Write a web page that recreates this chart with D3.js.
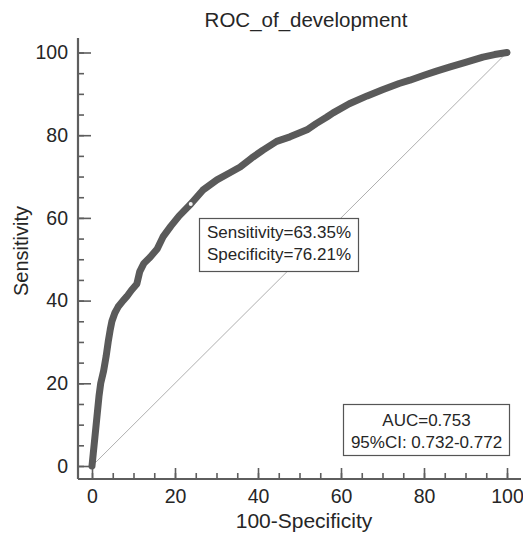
<!DOCTYPE html>
<html>
<head>
<meta charset="utf-8">
<script src="https://cdn.jsdelivr.net/npm/d3@7"></script>
<style>
  body { margin: 0; background: #fff; }
  svg { font-family: "Liberation Sans", Arial, sans-serif; }
</style>
</head>
<body>
<svg width="523" height="543"></svg>
<script>
// 100-Specificity (false positive rate, %)
var fpr = [0, 0.3, 0.7, 1.2, 1.7, 2.1, 2.8, 3.4, 3.9, 4.4, 4.8, 5.5, 6.3, 7.5, 8.4, 9.5,
    10.8, 11.5, 12.5, 14, 15.7, 17.1, 19, 21, 23.79, 26.7, 30.1, 33, 35.7, 38.5, 41.2,
    44.5, 47.7, 51.8, 54, 56.6, 58.1, 62, 66.3, 70, 74, 76.6, 80, 83, 86.3, 90, 94.2, 97, 100];
// Sensitivity (%)
var tpr = [0, 3, 7, 12, 17, 20, 23, 26.5, 30, 33, 35, 37, 38.5, 40, 41, 42.5,
    44, 47, 49, 50.5, 52.5, 55.4, 58, 60.5, 63.35, 66.7, 69.2, 70.8, 72.3, 74.5, 76.4,
    78.5, 79.6, 81.3, 82.8, 84.4, 85.4, 87.6, 89.5, 91, 92.5, 93.3, 94.5, 95.5, 96.5, 97.6, 98.9, 99.5, 100];
var majorTicks = [0, 20, 40, 60, 80, 100];
var minorTicks = d3.range(0, 101, 5);
var cutoff = {fpr: 23.79, tpr: 63.35};
var cutoffLines = ['Sensitivity=63.35%', 'Specificity=76.21%'];
var aucLines = ['AUC=0.753', '95%CI: 0.732-0.772'];

var svg = d3.select('svg');
var axisColor = '#5e5e5e';
var textColor = '#262626';

var x = d3.scaleLinear().domain([0, 100]).range([92, 507]);
var y = d3.scaleLinear().domain([0, 100]).range([466, 52.5]);

var axisX = 78;   // left axis line position
var axisY = 479;  // bottom axis line position

// title
svg.append('text')
    .attr('x', 306)
    .attr('y', 27)
    .attr('text-anchor', 'middle')
    .style('font-size', '20.5px')
    .style('fill', textColor)
    .text('ROC_of_development');

// chance diagonal
svg.append('line')
    .attr('x1', x(0)).attr('y1', y(0))
    .attr('x2', x(100)).attr('y2', y(100))
    .attr('stroke', '#9a9a9a')
    .attr('stroke-width', 0.8);

// y axis
var yMinor = svg.append('g')
    .attr('transform', 'translate(' + axisX + ',0)')
    .call(d3.axisLeft(y).tickValues(minorTicks).tickSizeInner(-6).tickSizeOuter(0).tickFormat(''));
var yMajor = svg.append('g')
    .attr('transform', 'translate(' + axisX + ',0)')
    .call(d3.axisLeft(y).tickValues(majorTicks).tickSizeInner(-13).tickSizeOuter(0).tickPadding(10));

// x axis
var xMinor = svg.append('g')
    .attr('transform', 'translate(0,' + axisY + ')')
    .call(d3.axisBottom(x).tickValues(minorTicks).tickSizeInner(-6).tickSizeOuter(0).tickFormat(''));
var xMajor = svg.append('g')
    .attr('transform', 'translate(0,' + axisY + ')')
    .call(d3.axisBottom(x).tickValues(majorTicks).tickSizeInner(-11).tickSizeOuter(0).tickPadding(8));

svg.selectAll('.domain').remove();
svg.selectAll('.tick line')
    .attr('stroke', axisColor)
    .attr('stroke-width', 1.6);
svg.selectAll('.tick text')
    .style('font-size', '19.5px')
    .style('font-family', '"Liberation Sans", Arial, sans-serif')
    .attr('fill', textColor);
xMajor.selectAll('.tick text').attr('dy', '0.8em');

// axis lines
svg.append('line')
    .attr('x1', axisX).attr('y1', 38)
    .attr('x2', axisX).attr('y2', axisY)
    .attr('stroke', axisColor).attr('stroke-width', 2.2);
svg.append('line')
    .attr('x1', axisX).attr('y1', axisY)
    .attr('x2', 521).attr('y2', axisY)
    .attr('stroke', axisColor).attr('stroke-width', 2.2);

// axis titles
svg.append('text')
    .attr('x', 304)
    .attr('y', 528)
    .attr('text-anchor', 'middle')
    .style('font-size', '21px')
    .style('fill', textColor)
    .text('100-Specificity');
svg.append('text')
    .attr('transform', 'translate(28,251) rotate(-90)')
    .attr('text-anchor', 'middle')
    .style('font-size', '20px')
    .style('fill', textColor)
    .text('Sensitivity');

// ROC curve
var pts = fpr.map(function (d, i) { return [d, tpr[i]]; });
var line = d3.line()
    .x(function (d) { return x(d[0]); })
    .y(function (d) { return y(d[1]); });
svg.append('path')
    .datum(pts)
    .attr('d', line)
    .attr('fill', 'none')
    .attr('stroke', '#5a5a5a')
    .attr('stroke-width', 7)
    .attr('stroke-linejoin', 'round')
    .attr('stroke-linecap', 'round');

// cutoff marker
svg.append('circle')
    .attr('cx', x(cutoff.fpr))
    .attr('cy', y(cutoff.tpr))
    .attr('r', 2)
    .attr('fill', '#f4f4f4');

// annotation boxes
function box(x0, y0, w, h, lines, lineY) {
    var g = svg.append('g');
    g.append('rect')
        .attr('x', x0).attr('y', y0)
        .attr('width', w).attr('height', h)
        .attr('fill', '#fff')
        .attr('stroke', '#555')
        .attr('stroke-width', 1.2);
    g.selectAll('text')
        .data(lines)
        .enter()
        .append('text')
            .attr('x', x0 + w / 2)
            .attr('y', function (d, i) { return lineY[i]; })
            .attr('text-anchor', 'middle')
            .style('font-size', '17px')
            .style('fill', textColor)
            .text(function (d) { return d; });
}
box(199.5, 218.5, 159, 53, cutoffLines, [238, 260]);
box(343.5, 404.5, 166, 51, aucLines, [426, 448]);
</script>
</body>
</html>
